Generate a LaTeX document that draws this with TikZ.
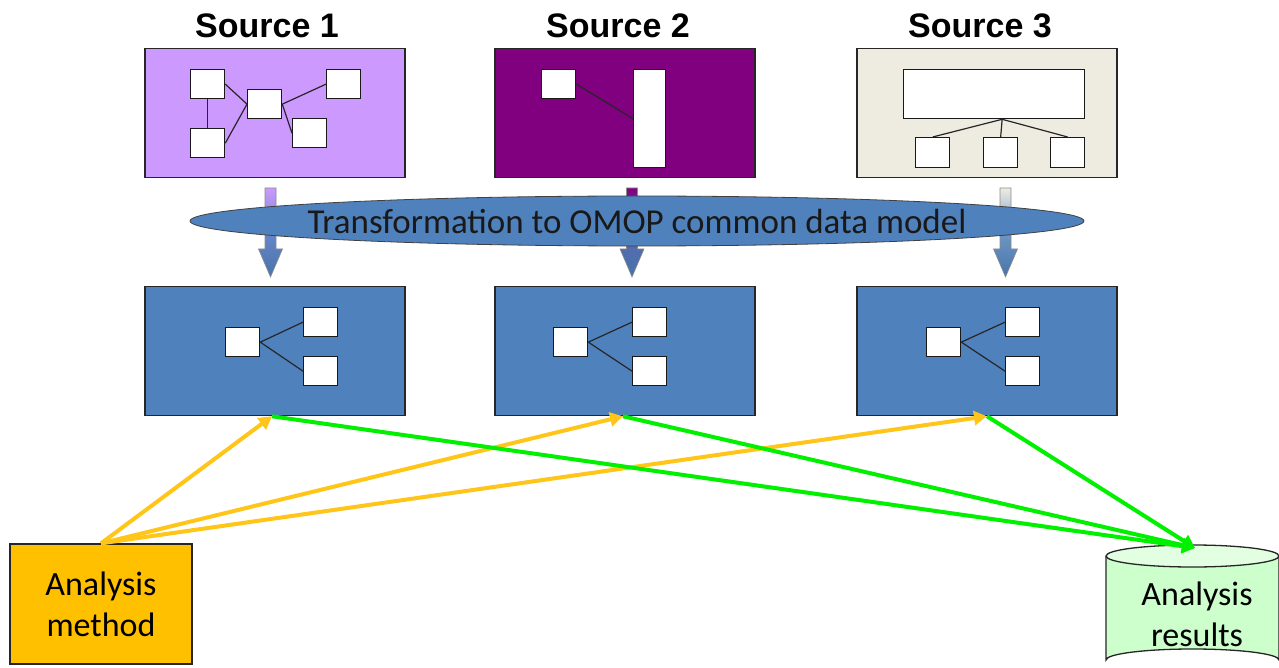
\documentclass[tikz,border=0pt]{standalone}
\usepackage{fontspec}
\setmainfont{Carlito}
\newfontfamily\arialf{Liberation Sans}
\usetikzlibrary{arrows.meta,shapes.geometric}
\definecolor{srcA}{HTML}{CC99FF}
\definecolor{srcB}{HTML}{800080}
\definecolor{srcC}{HTML}{EEECE1}
\definecolor{cdmblue}{HTML}{4F81BD}
\definecolor{methodc}{HTML}{FFC000}
\definecolor{orangeln}{HTML}{FFC619}
\definecolor{greenln}{HTML}{00F000}
\definecolor{resc}{HTML}{CCFFCC}
\definecolor{restop}{HTML}{E2FFE2}
\tikzset{
  bigbox/.style={draw=black!85, line width=1.5pt, minimum width=260pt, minimum height=129pt, inner sep=0pt},
  wbox/.style={draw=black!90, fill=white, line width=1.3pt, minimum width=34pt, minimum height=29pt, inner sep=0pt, anchor=north west},
  link/.style={draw=black!85, line width=1.2pt},
  title/.style={font=\arialf\bfseries\fontsize{34}{38}\selectfont},
  orarrow/.style={draw=orangeln, line width=4pt, -{Triangle[length=13pt,width=14pt]}},
  grarrow/.style={draw=greenln, line width=4pt, -{Triangle[length=13pt,width=14pt]}},
  lbl/.style={font=\fontsize{34}{41}\selectfont, align=center}
}
\newcommand{\blockarrow}[2]{%
  \shadedraw[draw=black!45, line width=0.6pt, top color=#2, bottom color=cdmblue!90!black, middle color=cdmblue!80!#2]
    (#1-5.5,188) -- (#1+5.5,188) -- (#1+5.5,249) -- (#1+12,249) -- (#1,277) -- (#1-12,249) -- (#1-5.5,249) -- cycle;}
\begin{document}
\begin{tikzpicture}[x=1pt,y=-1pt]
\useasboundingbox (0,0) rectangle (1279,668);
% titles
\node[title] (t1) at (267,26) {Source 1};
\node[title] (t2) at (618,26) {Source 2};
\node[title] (t3) at (980,26) {Source 3};
% source boxes
\node[bigbox, fill=srcA] (s1) at (275,113) {};
\node[bigbox, fill=srcB] (s2) at (625,113) {};
\node[bigbox, fill=srcC] (s3) at (987,113) {};
% source 1 inner
\node[wbox] (a1) at (190,69) {};
\node[wbox] (b1) at (190,128) {};
\node[wbox] (c1) at (247,89) {};
\node[wbox] (d1) at (326,69) {};
\node[wbox] (e1) at (292,118) {};
\draw[link] (a1.south) -- (b1.north);
\draw[link] (a1.east) -- (c1.west);
\draw[link] (b1.east) -- (c1.west);
\draw[link] (c1.east) -- (d1.west);
\draw[link] (c1.east) -- (e1.west);
% source 2 inner
\node[wbox] (a2) at (541,69) {};
\node[wbox, minimum width=32pt, minimum height=98pt] (b2) at (633,69) {};
\draw[link] (a2.east) -- (b2.west);
% source 3 inner
\node[wbox, minimum width=181pt, minimum height=49pt] (a3) at (903,69) {};
\node[wbox, minimum height=30pt] (b3) at (915,137) {};
\node[wbox, minimum height=30pt] (c3) at (983,137) {};
\node[wbox, minimum height=30pt] (d3) at (1050,137) {};
\draw[link] ([xshift=8pt]a3.south) -- (b3.north);
\draw[link] ([xshift=8pt]a3.south) -- (c3.north);
\draw[link] ([xshift=8pt]a3.south) -- (d3.north);
% block arrows
\blockarrow{270.5}{srcA}
\blockarrow{632}{srcB}
\blockarrow{1005.5}{srcC}
% ellipse
\node[ellipse, draw=black!75, line width=0.8pt, fill=cdmblue, minimum width=894pt, minimum height=50pt, inner sep=0pt] (tr) at (637,221) {};
\node[font=\fontsize{35}{38}\selectfont, text=black!90, inner sep=0pt] (trt) at (tr.center) {Transformation to OMOP common data model};
% CDM boxes
\node[bigbox, fill=cdmblue] (m1) at (275,351) {};
\node[bigbox, fill=cdmblue] (m2) at (625,351) {};
\node[bigbox, fill=cdmblue] (m3) at (987,351) {};
\node[wbox] (p1) at (225,327) {};
\node[wbox] (q1) at (303,307) {};
\node[wbox] (r1) at (303,356) {};
\node[wbox] (p2) at (553,327) {};
\node[wbox] (q2) at (632,307) {};
\node[wbox] (r2) at (632,356) {};
\node[wbox] (p3) at (926,327) {};
\node[wbox] (q3) at (1005,307) {};
\node[wbox] (r3) at (1005,356) {};
\foreach \i in {1,2,3}{
  \draw[link] (p\i.east) -- (q\i.west);
  \draw[link] (p\i.east) -- (r\i.west);
}
% analysis method
\node[draw=black!85, line width=1.3pt, fill=methodc, minimum width=182pt, minimum height=120pt, inner sep=0pt, lbl] (am) at (101,604) {Analysis\\method};
% analysis results cylinder
\fill[resc] (1106,556) -- (1106,660) arc[start angle=180, end angle=360, x radius=86.5, y radius=11] -- (1279,556) -- cycle;
\draw[black!85, line width=1.3pt] (1106,556) -- (1106,660) arc[start angle=180, end angle=360, x radius=86.5, y radius=11] -- (1279,556);
\draw[black!85, line width=1.3pt, fill=restop] (1192.5,556) ellipse[x radius=86.5, y radius=11];
\node[lbl] (ar) at (1197,614) {Analysis\\results};
\coordinate (rtop) at (1195,548);
% connectors
\draw[orarrow] (am.north) -- ([xshift=-3pt]m1.south);
\draw[orarrow] (am.north) -- ([xshift=-2pt]m2.south);
\draw[orarrow] (am.north) -- (m3.south);
\draw[grarrow] ([xshift=-3pt]m1.south) -- (rtop);
\draw[grarrow] ([xshift=-2pt]m2.south) -- (rtop);
\draw[grarrow] (m3.south) -- (rtop);
\end{tikzpicture}
\end{document}
